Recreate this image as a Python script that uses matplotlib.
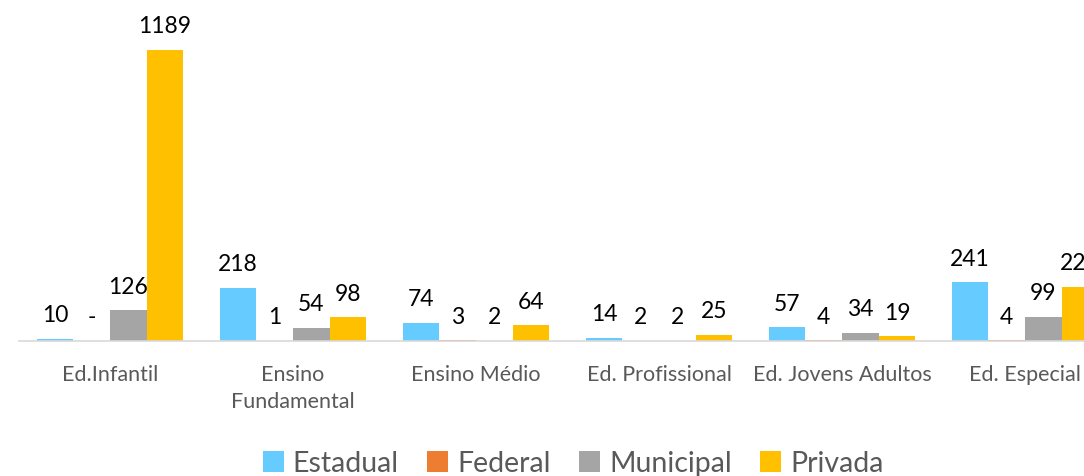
import matplotlib
matplotlib.use('Agg')
import matplotlib.pyplot as plt
import numpy as np

plt.rcParams['font.family'] = ['Lato', 'DejaVu Sans']

categories = ['Ed.Infantil', 'Ensino\nFundamental', 'Ensino Médio',
              'Ed. Profissional', 'Ed. Jovens Adultos', 'Ed. Especial']
series = ['Estadual', 'Federal', 'Municipal', 'Privada']
estadual = [10, 218, 74, 14, 57, 241]
federal = [0, 1, 3, 2, 4, 4]
municipal = [126, 54, 2, 2, 34, 99]
privada = [1189, 98, 64, 25, 19, 222]
federal_labels = ['-', '1', '3', '2', '4', '4']
colors = ['#66ccff', '#ed7d31', '#a5a5a5', '#ffc000']

values = [estadual, federal, municipal, privada]
labels = [[str(v) for v in estadual], federal_labels,
          [str(v) for v in municipal], [str(v) for v in privada]]

W, H = 1084, 476
fig = plt.figure(figsize=(W / 100, H / 100), dpi=100)
# plot area runs past the right edge, so the last group is cut off
ax = fig.add_axes([18.5 / W, 135 / H, 6 * 183 / W, 341 / H])

x = np.arange(len(categories))
width = 0.2
for i, (name, vals) in enumerate(zip(series, values)):
    pos = x + (i - 1.5) * width
    bars = ax.bar(pos, vals, width, color=colors[i], label=name)
    for b, lab in zip(bars, labels[i]):
        ax.annotate(lab, (b.get_x() + b.get_width() / 2, b.get_height()),
                    xytext=(0, 9), textcoords='offset points',
                    ha='center', va='bottom', fontsize=16.5, color='black',
                    clip_on=False)

ax.set_xlim(-0.5, 5.5)
ax.set_ylim(0, 1393)
ax.set_xticks(x)
ax.set_xticklabels(categories, fontsize=15.5, color='#595959', linespacing=1.45)
ax.tick_params(axis='x', length=0, pad=17)
ax.set_yticks([])
for s in ['top', 'left', 'right']:
    ax.spines[s].set_visible(False)
ax.spines['bottom'].set_color('#d9d9d9')
ax.spines['bottom'].set_linewidth(1.2)

fig.legend(loc='lower center', bbox_to_anchor=(573 / W, -0.055), ncol=4,
           frameon=False, fontsize=20.5, labelcolor='#595959',
           handlelength=0.75, handleheight=0.75, handletextpad=0.3,
           columnspacing=1.0)

fig.savefig('out.png', dpi=100)
